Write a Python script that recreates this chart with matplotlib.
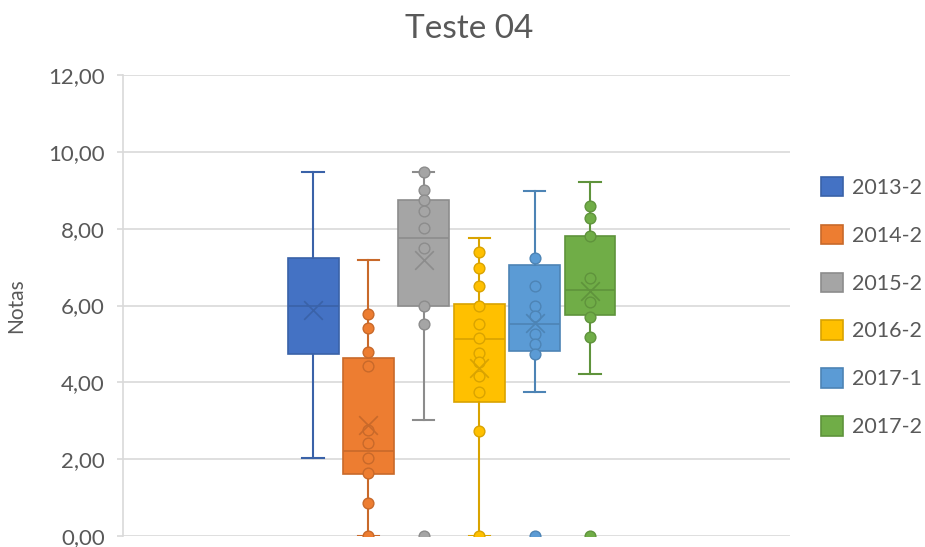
import numpy as np
import matplotlib.pyplot as plt
from matplotlib.patches import Patch

plt.rcParams['font.family'] = ['Lato', 'DejaVu Sans']

series = ["2013-2", "2014-2", "2015-2", "2016-2", "2017-1", "2017-2"]
colors = ["#4472C4", "#ED7D31", "#A5A5A5", "#FFC000", "#5B9BD5", "#70AD47"]
edges = ["#3A62A8", "#C8692A", "#8C8C8C", "#D9A300", "#4D84B5", "#5F933C"]

# box statistics
whis_lo = [2.02, 0.00, 3.02, 0.00, 3.75, 4.22]
q1 = [4.74, 1.61, 5.99, 3.49, 4.82, 5.76]
median = [5.99, 2.21, 7.76, 5.13, 5.52, 6.41]
q3 = [7.24, 4.64, 8.75, 6.04, 7.06, 7.81]
whis_hi = [9.48, 7.19, 9.48, 7.76, 8.98, 9.22]
means = [5.89, 2.89, 7.19, 4.38, 5.55, 6.38]

# inner points and outliers
points = [
    [],
    [5.78, 5.42, 4.79, 4.43, 2.76, 2.42, 2.03, 1.64, 0.86, 0.0],
    [9.48, 9.01, 8.75, 8.46, 8.02, 7.50, 6.00, 5.52],
    [7.40, 6.98, 6.51, 5.98, 5.52, 5.15, 4.76, 4.53, 4.17, 3.76, 2.73, 0.0],
    [7.24, 6.51, 5.99, 5.73, 5.26, 5.00, 4.74],
    [8.59, 8.28, 7.81, 6.72, 6.09, 5.70, 5.18],
]
outliers = [[], [], [0.0], [], [0.0], [0.0]]

yticks = [0, 2, 4, 6, 8, 10, 12]
ytick_labels = ["0,00", "2,00", "4,00", "6,00", "8,00", "10,00", "12,00"]

text_color = "#595959"
grid_color = "#D9D9D9"

fig = plt.figure(figsize=(9.25, 5.47), dpi=100)
ax = fig.add_axes([123 / 925, 1 - 536 / 547, 667 / 925, 461 / 547])

pos = np.arange(len(series))
for i in range(len(series)):
    stats = [dict(whislo=whis_lo[i], q1=q1[i], med=median[i], q3=q3[i],
                  whishi=whis_hi[i], mean=means[i], fliers=[])]
    ax.bxp(stats, positions=[pos[i]], widths=0.92, patch_artist=True,
           showmeans=False, manage_ticks=False,
           boxprops=dict(facecolor=colors[i], edgecolor=edges[i], linewidth=1.2),
           medianprops=dict(color=edges[i], linewidth=1.2),
           whiskerprops=dict(color=edges[i], linewidth=1.5),
           capprops=dict(color=edges[i], linewidth=1.5),
           capwidths=0.38)
    pts = points[i] + outliers[i]
    if pts:
        ax.scatter(np.full(len(pts), pos[i]), pts, s=60, color=colors[i],
                   edgecolors=edges[i], linewidths=1.0, zorder=4)
    ax.scatter([pos[i]], [means[i]], marker="x", s=180, color=edges[i],
               linewidths=1.2, zorder=5)

ax.set_xlim(-3.43, 8.61)
ax.set_ylim(0, 12)
ax.set_yticks(yticks)
ax.set_yticklabels(ytick_labels)
ax.set_xticks([])
ax.grid(axis="y", color=grid_color, linewidth=1.2)
ax.set_axisbelow(True)
for s in ["top", "right", "bottom"]:
    ax.spines[s].set_visible(False)
ax.spines["left"].set_color(grid_color)
ax.spines["left"].set_linewidth(1.2)
ax.tick_params(axis="y", colors=grid_color, length=4, width=1.2,
               labelcolor=text_color, labelsize=16, pad=9)
ax.set_ylabel("Notas", color=text_color, fontsize=15, labelpad=16)

fig.text(469 / 925, 1 - 29 / 547, "Teste 04", ha="center", va="center",
         color=text_color, fontsize=24)

handles = [Patch(facecolor=c, edgecolor=e, linewidth=1.2) for c, e in zip(colors, edges)]
ax.legend(handles, series, loc="center left", bbox_to_anchor=(821 / 925, 1 - 307 / 547),
          bbox_transform=fig.transFigure, frameon=False, fontsize=15.5,
          handlelength=1.0, handleheight=1.0, handletextpad=0.42,
          labelspacing=1.25, borderpad=0, borderaxespad=0, labelcolor=text_color)

fig.savefig("out.png", dpi=100)
